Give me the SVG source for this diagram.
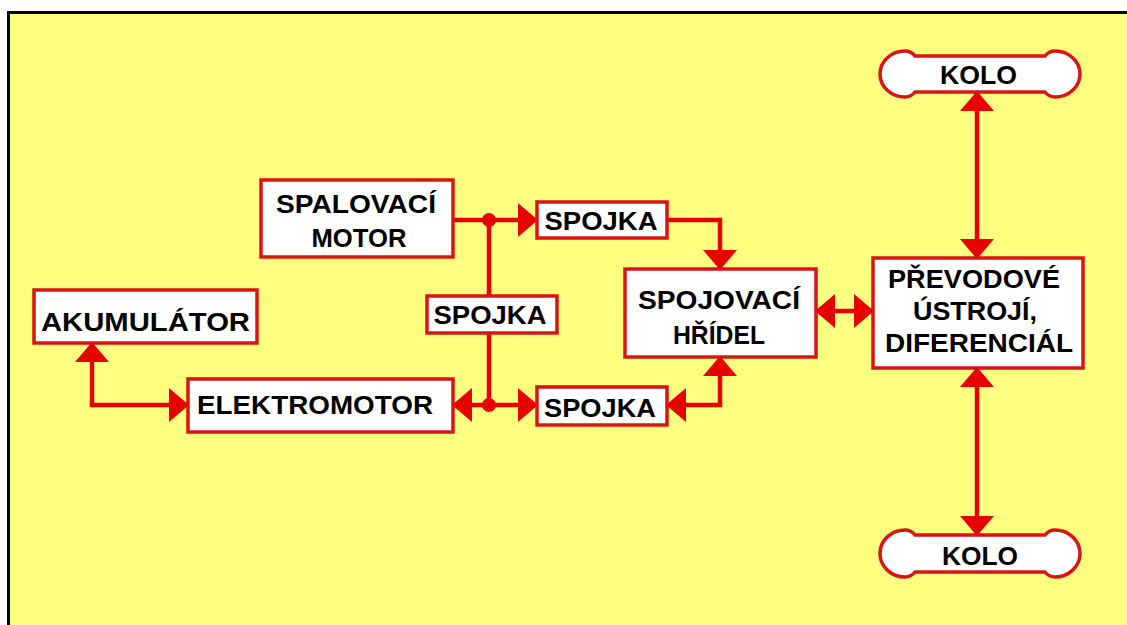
<svg xmlns="http://www.w3.org/2000/svg" width="1127" height="625" viewBox="0 0 1127 625">
<style>
.box{fill:#fff;stroke:#D81414;stroke-width:3.5}
.t{font-family:"Liberation Sans",Arial,sans-serif;font-weight:bold;font-size:26.5px;fill:#000;text-anchor:middle}
.c{fill:none;stroke:#E60000;stroke-width:4.5}
.dot{fill:#E60000}
</style>
<defs>
<marker id="ah" viewBox="0 0 20 34" refX="19" refY="17" markerWidth="20" markerHeight="34" markerUnits="userSpaceOnUse" orient="auto-start-reverse">
<path d="M0,0 L20,17 L0,34 Z" fill="#E60000"/>
</marker>
</defs>
<rect x="0" y="0" width="1127" height="625" fill="#fff"/>
<rect x="7" y="11" width="1120" height="614" fill="#000"/>
<rect x="10" y="14" width="1117" height="611" fill="#FFFF80"/>

<g id="connectors">
<path class="c" d="M453,220 H537" marker-end="url(#ah)"/>
<path class="c" d="M489,220 V296 M489,333 V405"/>
<path class="c" d="M453,405 H537" marker-start="url(#ah)" marker-end="url(#ah)"/>
<circle class="dot" cx="489" cy="220" r="7"/>
<circle class="dot" cx="489" cy="405" r="7"/>
<path class="c" d="M667,220 H720 V269" marker-end="url(#ah)"/>
<path class="c" d="M667,405 H720 V357" marker-start="url(#ah)" marker-end="url(#ah)"/>
<path class="c" d="M816,311 H873" marker-start="url(#ah)" marker-end="url(#ah)"/>
<path class="c" d="M977,258 V92" marker-start="url(#ah)" marker-end="url(#ah)"/>
<path class="c" d="M977,368 V535" marker-start="url(#ah)" marker-end="url(#ah)"/>
<path class="c" d="M92,343 V405 H188" marker-start="url(#ah)" marker-end="url(#ah)"/>
</g>

<g id="spalovaci">
<rect class="box" x="261" y="180" width="192" height="77"/>
<text class="t" x="356" y="213" textLength="160" lengthAdjust="spacingAndGlyphs">SPALOVACÍ</text>
<text class="t" x="359" y="247" textLength="95" lengthAdjust="spacingAndGlyphs">MOTOR</text>
</g>
<g id="spojka1">
<rect class="box" x="537" y="202" width="130" height="36"/>
<text class="t" x="601" y="230" textLength="113" lengthAdjust="spacingAndGlyphs">SPOJKA</text>
</g>
<g id="spojka2">
<rect class="box" x="427" y="296" width="130" height="37"/>
<text class="t" x="490" y="324" textLength="113" lengthAdjust="spacingAndGlyphs">SPOJKA</text>
</g>
<g id="spojka3">
<rect class="box" x="537" y="387" width="130" height="38"/>
<text class="t" x="600" y="417" textLength="112" lengthAdjust="spacingAndGlyphs">SPOJKA</text>
</g>
<g id="hridel">
<rect class="box" x="625" y="269" width="191" height="88"/>
<text class="t" x="719" y="309" textLength="162" lengthAdjust="spacingAndGlyphs">SPOJOVACÍ</text>
<text class="t" x="719" y="344" textLength="92" lengthAdjust="spacingAndGlyphs">HŘÍDEL</text>
</g>
<g id="akumulator">
<rect class="box" x="34" y="290" width="223" height="53"/>
<text class="t" x="145.5" y="331" textLength="209" lengthAdjust="spacingAndGlyphs">AKUMULÁTOR</text>
</g>
<g id="elektromotor">
<rect class="box" x="188" y="379" width="265" height="53"/>
<text class="t" x="315" y="414" textLength="236" lengthAdjust="spacingAndGlyphs">ELEKTROMOTOR</text>
</g>
<g id="prevodove">
<rect class="box" x="873" y="258" width="210" height="110"/>
<text class="t" x="974" y="288" textLength="172" lengthAdjust="spacingAndGlyphs">PŘEVODOVÉ</text>
<text class="t" x="975" y="320" textLength="124" lengthAdjust="spacingAndGlyphs">ÚSTROJÍ,</text>
<text class="t" x="979" y="352" textLength="188" lengthAdjust="spacingAndGlyphs">DIFERENCIÁL</text>
</g>
<g id="kolo1">
<path class="box" d="M915,56 H1045 Q1049,51 1055,51 A25,23 0 0 1 1055,97 Q1049,97 1045,92 H915 Q911,97 905,97 A25,23 0 0 1 905,51 Q911,51 915,56 Z"/>
<text class="t" x="978.5" y="84" textLength="77" lengthAdjust="spacingAndGlyphs">KOLO</text>
</g>
<g id="kolo2">
<path class="box" d="M915,535 H1045 Q1049,530 1055,530 A25,23.5 0 0 1 1055,577 Q1049,577 1045,572 H915 Q911,577 905,577 A25,23.5 0 0 1 905,530 Q911,530 915,535 Z"/>
<text class="t" x="980" y="565" textLength="76" lengthAdjust="spacingAndGlyphs">KOLO</text>
</g>
</svg>
